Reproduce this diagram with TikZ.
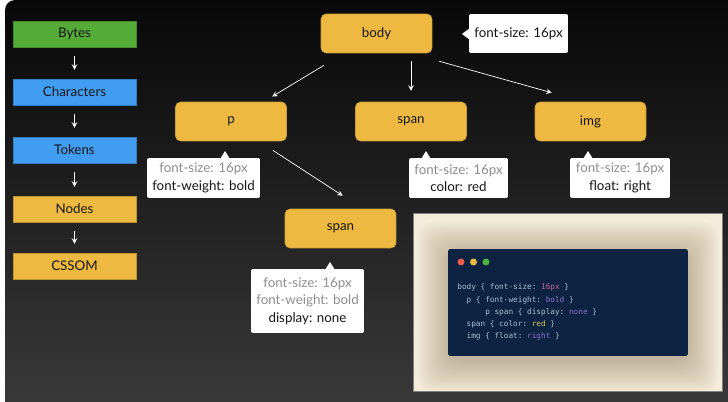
\documentclass[tikz,border=0pt]{standalone}
\usepackage{fontspec}
\setmainfont{Lato}
\newfontfamily\codefont{DejaVu Sans Mono}
\usetikzlibrary{calc}

\definecolor{ink}{HTML}{161616}
\definecolor{faint}{HTML}{8E8E8E}
\definecolor{bgtop}{HTML}{080808}
\definecolor{bgbot}{HTML}{3C3C3C}
\definecolor{bytesgreen}{HTML}{54AB36}
\definecolor{tokenblue}{HTML}{409DF1}
\definecolor{nodeyellow}{HTML}{EEB940}
\definecolor{cream}{HTML}{F4EBD9}
\definecolor{codebg}{HTML}{0D2341}
\definecolor{codeink}{HTML}{A9C1D6}
\definecolor{cpink}{HTML}{C862A2}
\definecolor{cviolet}{HTML}{8E72D2}
\definecolor{cyellow}{HTML}{D8C45E}
\definecolor{dotred}{HTML}{E95D50}
\definecolor{dotyellow}{HTML}{E9B93E}
\definecolor{dotgreen}{HTML}{4DB33F}
\definecolor{halo}{HTML}{6E5A3A}

\begin{document}
\begin{tikzpicture}[x=0.02cm,y=-0.02cm,
    every node/.style={font=\fontsize{7.6}{10}\selectfont,text=ink},
    stage/.style={fill=#1,draw=#1!80!black,line width=0.3pt,minimum width=2.46cm,minimum height=0.52cm,inner sep=0pt},
    tag/.style={fill=nodeyellow,draw=nodeyellow!85!black,line width=0.3pt,rounded corners=0.1cm,minimum width=2.22cm,minimum height=0.78cm,inner sep=0pt},
    tip/.style={fill=white,rounded corners=0.04cm,align=center,inner sep=0pt,minimum height=0.8cm},
    flow/.style={draw=white,line width=0.4pt,-stealth},
    dot/.style={circle,fill=#1,minimum size=0.14cm,inner sep=0pt}]

  \useasboundingbox (0,0) rectangle (728,402);
  \fill[white] (0,0) rectangle (728,402);
  \shade[top color=bgtop,bottom color=bgbot,rounded corners=0.2cm] (5,0) rectangle (760,430);

  \node[stage=bytesgreen] (bytes) at (74.5,34) {Bytes};
  \node[stage=tokenblue] (chars) at (74.5,92) {Characters};
  \node[stage=tokenblue] (tokens) at (74.5,150) {Tokens};
  \node[stage=nodeyellow] (nodes) at (74.5,209) {Nodes};
  \node[stage=nodeyellow] (cssom) at (74.5,266) {CSSOM};

  \draw[flow,shorten <=5.1pt,shorten >=5.1pt] (bytes) -- (chars);
  \draw[flow,shorten <=5.1pt,shorten >=5.1pt] (chars) -- (tokens);
  \draw[flow,shorten <=5.1pt,shorten >=5.1pt] (tokens) -- (nodes);
  \draw[flow,shorten <=5.1pt,shorten >=5.1pt] (nodes) -- (cssom);

  \node[tag] (body) at (376.5,33.5) {body};
  \node[tag] (p) at (231,121.5) {p};
  \node[tag] (span) at (411,121.5) {span};
  \node[tag] (img) at (590.5,121.5) {img};
  \node[tag] (pspan) at (340.5,228.5) {span};

  \draw[flow,shorten <=13.3pt,shorten >=5.7pt] (body) -- (p);
  \draw[flow,shorten <=4.5pt,shorten >=6.2pt] (span |- body.south) -- (span.north);
  \draw[flow] ($(body.south east)+(7,8)$) -- ($(img.north west)+(17,-9)$);
  \draw[flow] ($(p.south east)+(-14,9)$) -- ($(pspan.north west)+(58,-13)$);

  \node[tip,minimum width=1.98cm,minimum height=0.78cm] (bodytip) at (518.5,33.5) {font-size: 16px};
  \fill[white] (470,28) -- (462,34) -- (470,40) -- cycle;
  \node[tip,minimum width=2.26cm] (ptip) at (203.5,178) {\textcolor{faint}{font-size: 16px}\\font-weight: bold};
  \fill[white] (220,159) -- (225,151) -- (230,159) -- cycle;
  \node[tip,minimum width=1.98cm] (spantip) at (458.5,178) {\textcolor{faint}{font-size: 16px}\\color: red};
  \fill[white] (421,159) -- (426,151) -- (431,159) -- cycle;
  \node[tip,minimum width=2cm] (imgtip) at (620,178) {\textcolor{faint}{font-size: 16px}\\float: right};
  \fill[white] (583,159) -- (588,151) -- (593,159) -- cycle;
  \node[tip,minimum width=2.26cm,minimum height=1.28cm] (pspantip) at (307.5,301) {\textcolor{faint}{font-size: 16px}\\\textcolor{faint}{font-weight: bold}\\display: none};
  \fill[white] (325,270) -- (330,262) -- (335,270) -- cycle;

  \node[fill=cream,draw=gray,line width=0.4pt,minimum width=6.18cm,minimum height=3.56cm,inner sep=0pt] (panel) at (567.5,302) {};
  \foreach \i in {1,...,16}
    \fill[halo,opacity=0.022,rounded corners=0.3cm] ({450-2*\i},{254-2*\i}) rectangle ({686+2*\i},{360+2*\i});
  \node[fill=codebg,rounded corners=0.05cm,minimum width=4.8cm,minimum height=2.14cm,inner sep=0pt] (window) at (568,302.5) {};
  \node[dot=dotred] (red) at (461,262) {};
  \node[dot=dotyellow] (yellow) at (473.5,262) {};
  \node[dot=dotgreen] (green) at (486,262) {};
  \node[anchor=north west,inner sep=0pt,align=left,text=codeink,font=\codefont\fontsize{4.4}{7}\selectfont] (css) at (457,283.5)
    {body~\{~font-size:~\textcolor{cpink}{16px}~\}\\
     ~~p~\{~font-weight:~\textcolor{cviolet}{bold}~\}\\
     ~~~~~~p~span~\{~display:~\textcolor{cviolet}{none}~\}\\
     ~~span~\{~color:~\textcolor{cyellow}{red}~\}\\
     ~~img~\{~float:~\textcolor{cviolet}{right}~\}};
\end{tikzpicture}
\end{document}
